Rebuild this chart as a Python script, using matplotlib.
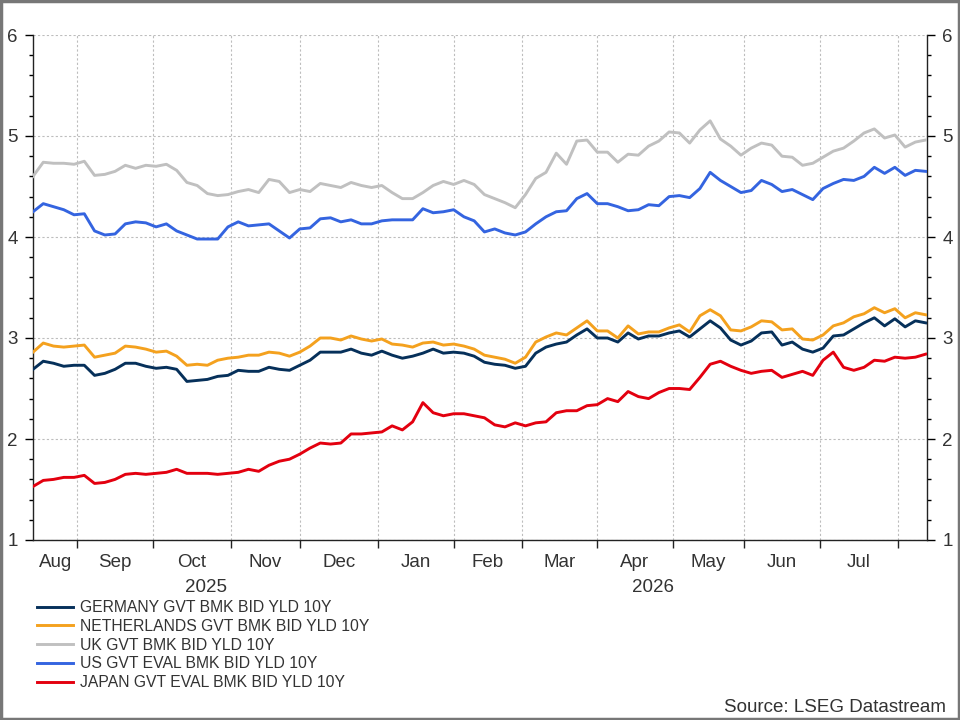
import numpy as np
import pandas as pd
import matplotlib
matplotlib.use("Agg")
import matplotlib.pyplot as plt
from matplotlib.patches import Rectangle
from matplotlib.ticker import MultipleLocator

plt.rcParams['font.family'] = ['Liberation Sans', 'DejaVu Sans']

# business days shown on the axis, series read every 3rd business day
days = pd.bdate_range('2025-08-13', periods=262)
step = 3

germany = [2.69, 2.77, 2.75, 2.72, 2.73, 2.73, 2.63, 2.65, 2.69, 2.75,
           2.75, 2.72, 2.70, 2.71, 2.69, 2.57, 2.58, 2.59, 2.62, 2.63,
           2.68, 2.67, 2.67, 2.71, 2.69, 2.68, 2.73, 2.78, 2.86, 2.86,
           2.86, 2.89, 2.85, 2.83, 2.87, 2.83, 2.80, 2.82, 2.85, 2.89,
           2.85, 2.86, 2.85, 2.82, 2.76, 2.74, 2.73, 2.70, 2.72, 2.85,
           2.91, 2.94, 2.96, 3.03, 3.09, 3.00, 3.00, 2.96, 3.05, 2.99,
           3.02, 3.02, 3.05, 3.07, 3.01, 3.09, 3.17, 3.10, 2.98, 2.93,
           2.97, 3.05, 3.06, 2.93, 2.96, 2.89, 2.86, 2.90, 3.02, 3.03,
           3.09, 3.15, 3.20, 3.12, 3.19, 3.11, 3.17, 3.15]

netherlands = [2.86, 2.95, 2.92, 2.91, 2.92, 2.93, 2.81, 2.83, 2.85, 2.92,
               2.91, 2.89, 2.86, 2.87, 2.82, 2.73, 2.74, 2.73, 2.78, 2.80,
               2.81, 2.83, 2.83, 2.86, 2.85, 2.82, 2.86, 2.92, 3.00, 3.00,
               2.98, 3.02, 2.99, 2.97, 2.99, 2.94, 2.93, 2.91, 2.95, 2.96,
               2.93, 2.94, 2.92, 2.89, 2.83, 2.81, 2.79, 2.75, 2.81, 2.96,
               3.01, 3.05, 3.03, 3.10, 3.17, 3.07, 3.07, 3.00, 3.12, 3.04,
               3.06, 3.06, 3.10, 3.13, 3.06, 3.22, 3.28, 3.22, 3.08, 3.07,
               3.11, 3.17, 3.16, 3.08, 3.09, 2.99, 2.98, 3.03, 3.12, 3.15,
               3.21, 3.24, 3.30, 3.25, 3.29, 3.20, 3.25, 3.23]

uk = [4.60, 4.74, 4.73, 4.73, 4.72, 4.75, 4.61, 4.62, 4.65, 4.71,
      4.68, 4.71, 4.70, 4.72, 4.66, 4.54, 4.51, 4.43, 4.41, 4.42,
      4.45, 4.47, 4.44, 4.57, 4.55, 4.44, 4.47, 4.45, 4.53, 4.51,
      4.49, 4.54, 4.51, 4.49, 4.51, 4.44, 4.38, 4.38, 4.44, 4.51,
      4.55, 4.52, 4.56, 4.52, 4.42, 4.38, 4.34, 4.29, 4.42, 4.58,
      4.64, 4.83, 4.72, 4.95, 4.96, 4.84, 4.84, 4.74, 4.82, 4.81,
      4.90, 4.95, 5.04, 5.03, 4.93, 5.06, 5.15, 4.97, 4.90, 4.81,
      4.88, 4.93, 4.91, 4.80, 4.79, 4.71, 4.73, 4.79, 4.85, 4.88,
      4.95, 5.03, 5.07, 4.98, 5.01, 4.89, 4.94, 4.96]

us = [4.25, 4.33, 4.30, 4.27, 4.22, 4.23, 4.06, 4.02, 4.03, 4.13,
      4.15, 4.14, 4.10, 4.13, 4.06, 4.02, 3.98, 3.98, 3.98, 4.10,
      4.15, 4.11, 4.12, 4.13, 4.06, 3.99, 4.08, 4.09, 4.18, 4.19,
      4.15, 4.17, 4.13, 4.13, 4.16, 4.17, 4.17, 4.17, 4.28, 4.24,
      4.25, 4.27, 4.20, 4.16, 4.05, 4.08, 4.04, 4.02, 4.05, 4.13,
      4.20, 4.25, 4.26, 4.38, 4.43, 4.33, 4.33, 4.30, 4.26, 4.27,
      4.32, 4.31, 4.40, 4.41, 4.39, 4.48, 4.64, 4.56, 4.50, 4.44,
      4.46, 4.56, 4.52, 4.45, 4.47, 4.42, 4.37, 4.48, 4.53, 4.57,
      4.56, 4.60, 4.69, 4.63, 4.69, 4.61, 4.66, 4.65]

japan = [1.53, 1.59, 1.60, 1.62, 1.62, 1.64, 1.56, 1.57, 1.60, 1.65,
         1.66, 1.65, 1.66, 1.67, 1.70, 1.66, 1.66, 1.66, 1.65, 1.66,
         1.67, 1.70, 1.68, 1.74, 1.78, 1.80, 1.85, 1.91, 1.96, 1.95,
         1.96, 2.05, 2.05, 2.06, 2.07, 2.13, 2.09, 2.17, 2.36, 2.26,
         2.23, 2.25, 2.25, 2.23, 2.21, 2.14, 2.12, 2.16, 2.13, 2.16,
         2.17, 2.26, 2.28, 2.28, 2.33, 2.34, 2.40, 2.37, 2.47, 2.42,
         2.40, 2.46, 2.50, 2.50, 2.49, 2.61, 2.74, 2.77, 2.72, 2.68,
         2.65, 2.67, 2.68, 2.61, 2.64, 2.67, 2.63, 2.78, 2.86, 2.71,
         2.68, 2.71, 2.78, 2.77, 2.81, 2.80, 2.81, 2.84]

names = ['GERMANY GVT BMK BID YLD 10Y', 'NETHERLANDS GVT BMK BID YLD 10Y',
         'UK GVT BMK BID YLD 10Y', 'US GVT EVAL BMK BID YLD 10Y',
         'JAPAN GVT EVAL BMK BID YLD 10Y']
colors = ['#06305a', '#f4a11e', '#c0c0c0', '#3464e0', '#e3000f']
series = [germany, netherlands, uk, us, japan]

txt = '#333333'
fs = 13.5
fig = plt.figure(figsize=(9.6, 7.2), dpi=100)
ax = fig.add_axes([33 / 960, 1 - 540 / 720, 894 / 960, 505 / 720])

xs = np.arange(0, len(days), step)
# draw in back-to-front order so the lower lines sit on top like the original
for i in [2, 3, 1, 0, 4]:
    ax.plot(xs, series[i], color=colors[i], lw=2.1, label=names[i], zorder=3)

ax.set_xlim(0, 261.4)
ax.set_ylim(1, 6)

# month boundaries as major ticks, labels centred in each month
month = days.month
starts = [i for i in range(1, len(days)) if month[i] != month[i - 1]]
edges = [0] + starts
centers = [(edges[j] + edges[j + 1]) / 2 for j in range(len(edges) - 1)]
labels = [days[edges[j]].strftime('%b') for j in range(len(edges) - 1)]
ax.set_xticks(starts)
ax.set_xticklabels([''] * len(starts))
ax.set_xticks(centers, labels, minor=True)
ax.tick_params(axis='x', which='major', direction='out', length=6, width=1, color='#222222')
ax.tick_params(axis='x', which='minor', length=0, pad=10, labelsize=fs, labelcolor=txt)

ax.yaxis.set_major_locator(MultipleLocator(1))
ax.yaxis.set_minor_locator(MultipleLocator(0.2))
ax.yaxis.set_ticks_position('both')
ax.tick_params(axis='y', which='major', direction='out', length=6, width=1,
               labelsize=fs, labelcolor=txt, labelleft=True, labelright=True, pad=5)
ax.tick_params(axis='y', which='minor', direction='out', length=3, width=1)

ax.grid(True, which='major', color='#bdbdbd', linestyle=(0, (2, 2)), linewidth=0.8)
ax.set_axisbelow(True)
ax.spines['top'].set_visible(False)
for s in ['left', 'right', 'bottom']:
    ax.spines[s].set_color('#222222')
    ax.spines[s].set_linewidth(1)

fig.text(206 / 960, 1 - 588 / 720, '2025', ha='center', va='center', fontsize=fs, color=txt)
fig.text(653 / 960, 1 - 588 / 720, '2026', ha='center', va='center', fontsize=fs, color=txt)

handles, labs = ax.get_legend_handles_labels()
order = [labs.index(n) for n in names]
fig.legend([handles[i] for i in order], [labs[i] for i in order],
           loc='upper left', bbox_to_anchor=(37 / 960, 1 - 600 / 720),
           frameon=False, fontsize=11.3, handlelength=2.3, handletextpad=0.45,
           labelspacing=0.24, borderpad=0, borderaxespad=0, labelcolor=txt)

fig.text(946 / 960, 1 - 707 / 720, 'Source: LSEG Datastream', ha='right', va='center',
         fontsize=fs, color=txt)

fig.patches.append(Rectangle((0.001, 0.001), 0.998, 0.998, transform=fig.transFigure,
                             fill=False, edgecolor='#777777', linewidth=2.5))

fig.savefig('out.png', dpi=100)
